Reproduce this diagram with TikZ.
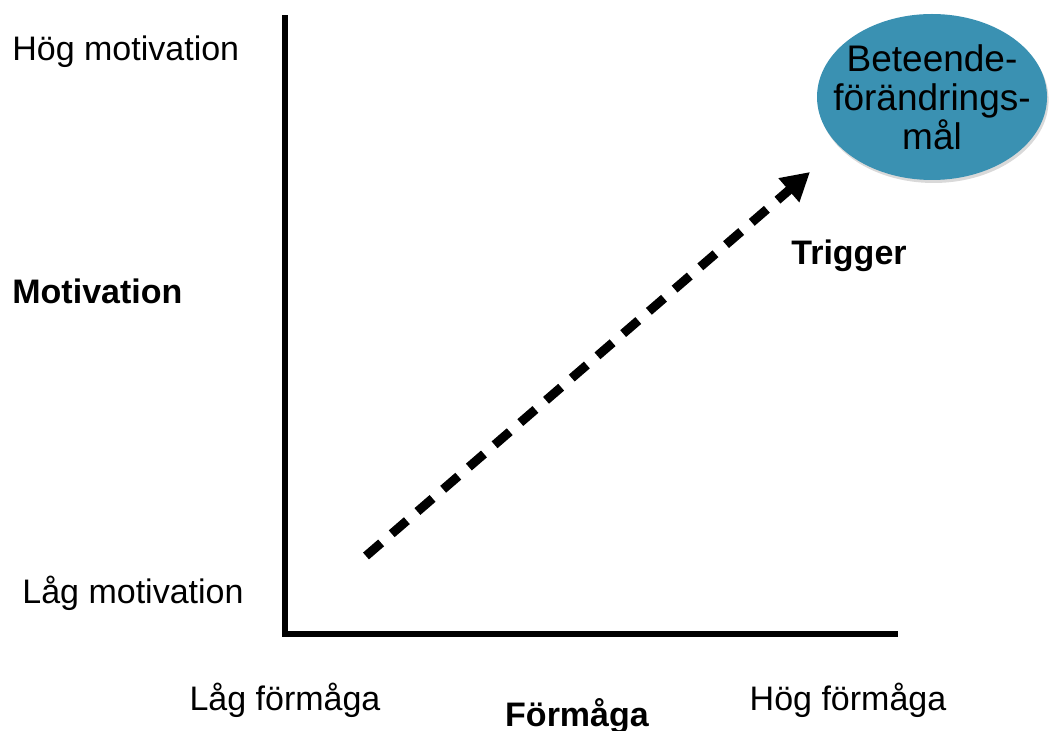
\documentclass[tikz,border=0pt]{standalone}
\usepackage{fontspec}
\setmainfont{Liberation Sans}
\usepackage{xcolor}
\usepackage{tikz}
\usetikzlibrary{shapes.geometric, arrows.meta, positioning, shadows}
\definecolor{goalblue}{RGB}{58,145,178}

\begin{document}
\begin{tikzpicture}[
    x=0.5pt, y=-0.5pt,
    every node/.style={font=\fontsize{17}{20}\selectfont, inner sep=0pt},
    level/.style={anchor=west},
    axislabel/.style={font=\fontsize{17}{20}\selectfont\bfseries},
    axis/.style={line width=3pt, line cap=rect},
    goal/.style={ellipse, draw=none, fill=goalblue, minimum width=115pt, minimum height=83pt, align=center,
        inner xsep=-9.3pt, inner ysep=0pt,
        font=\fontsize{18.5}{19.5}\selectfont,
        drop shadow={shadow xshift=0.8pt, shadow yshift=-1.5pt, opacity=0.3}},
    trigger/.style={dashed, line width=4.5pt, dash pattern=on 10pt off 7pt, -{Triangle[length=14pt, width=15pt]}}
]
\useasboundingbox (0,0) rectangle (1053,731);

% Axes
\coordinate (top) at (285,18);
\coordinate (origin) at (285,634);
\coordinate (right) at (895,634);
\draw[axis] (top) -- (origin) -- (right);

% Motivation labels
\node[level] (hmot) at (12,52) {Hög motivation};
\node[axislabel, anchor=west] (mot) at (12,291) {Motivation};
\node[level] (lmot) at (22,593) {Låg motivation};

% Ability labels
\node (lform) at (285,700) {Låg förmåga};
\node[axislabel] (form) at (577,716) {Förmåga};
\node (hform) at (848,700) {Hög förmåga};

% Goal
\node[goal] (goal) at (932,97) {Beteende-\\förändrings-\\mål};

% Trigger arrow
\coordinate (start) at (366,556);
\coordinate (tip) at (810,172);
\draw[trigger] (start) -- (tip);
\node[axislabel] (trig) at (849,256) {Trigger};

\end{tikzpicture}
\end{document}
